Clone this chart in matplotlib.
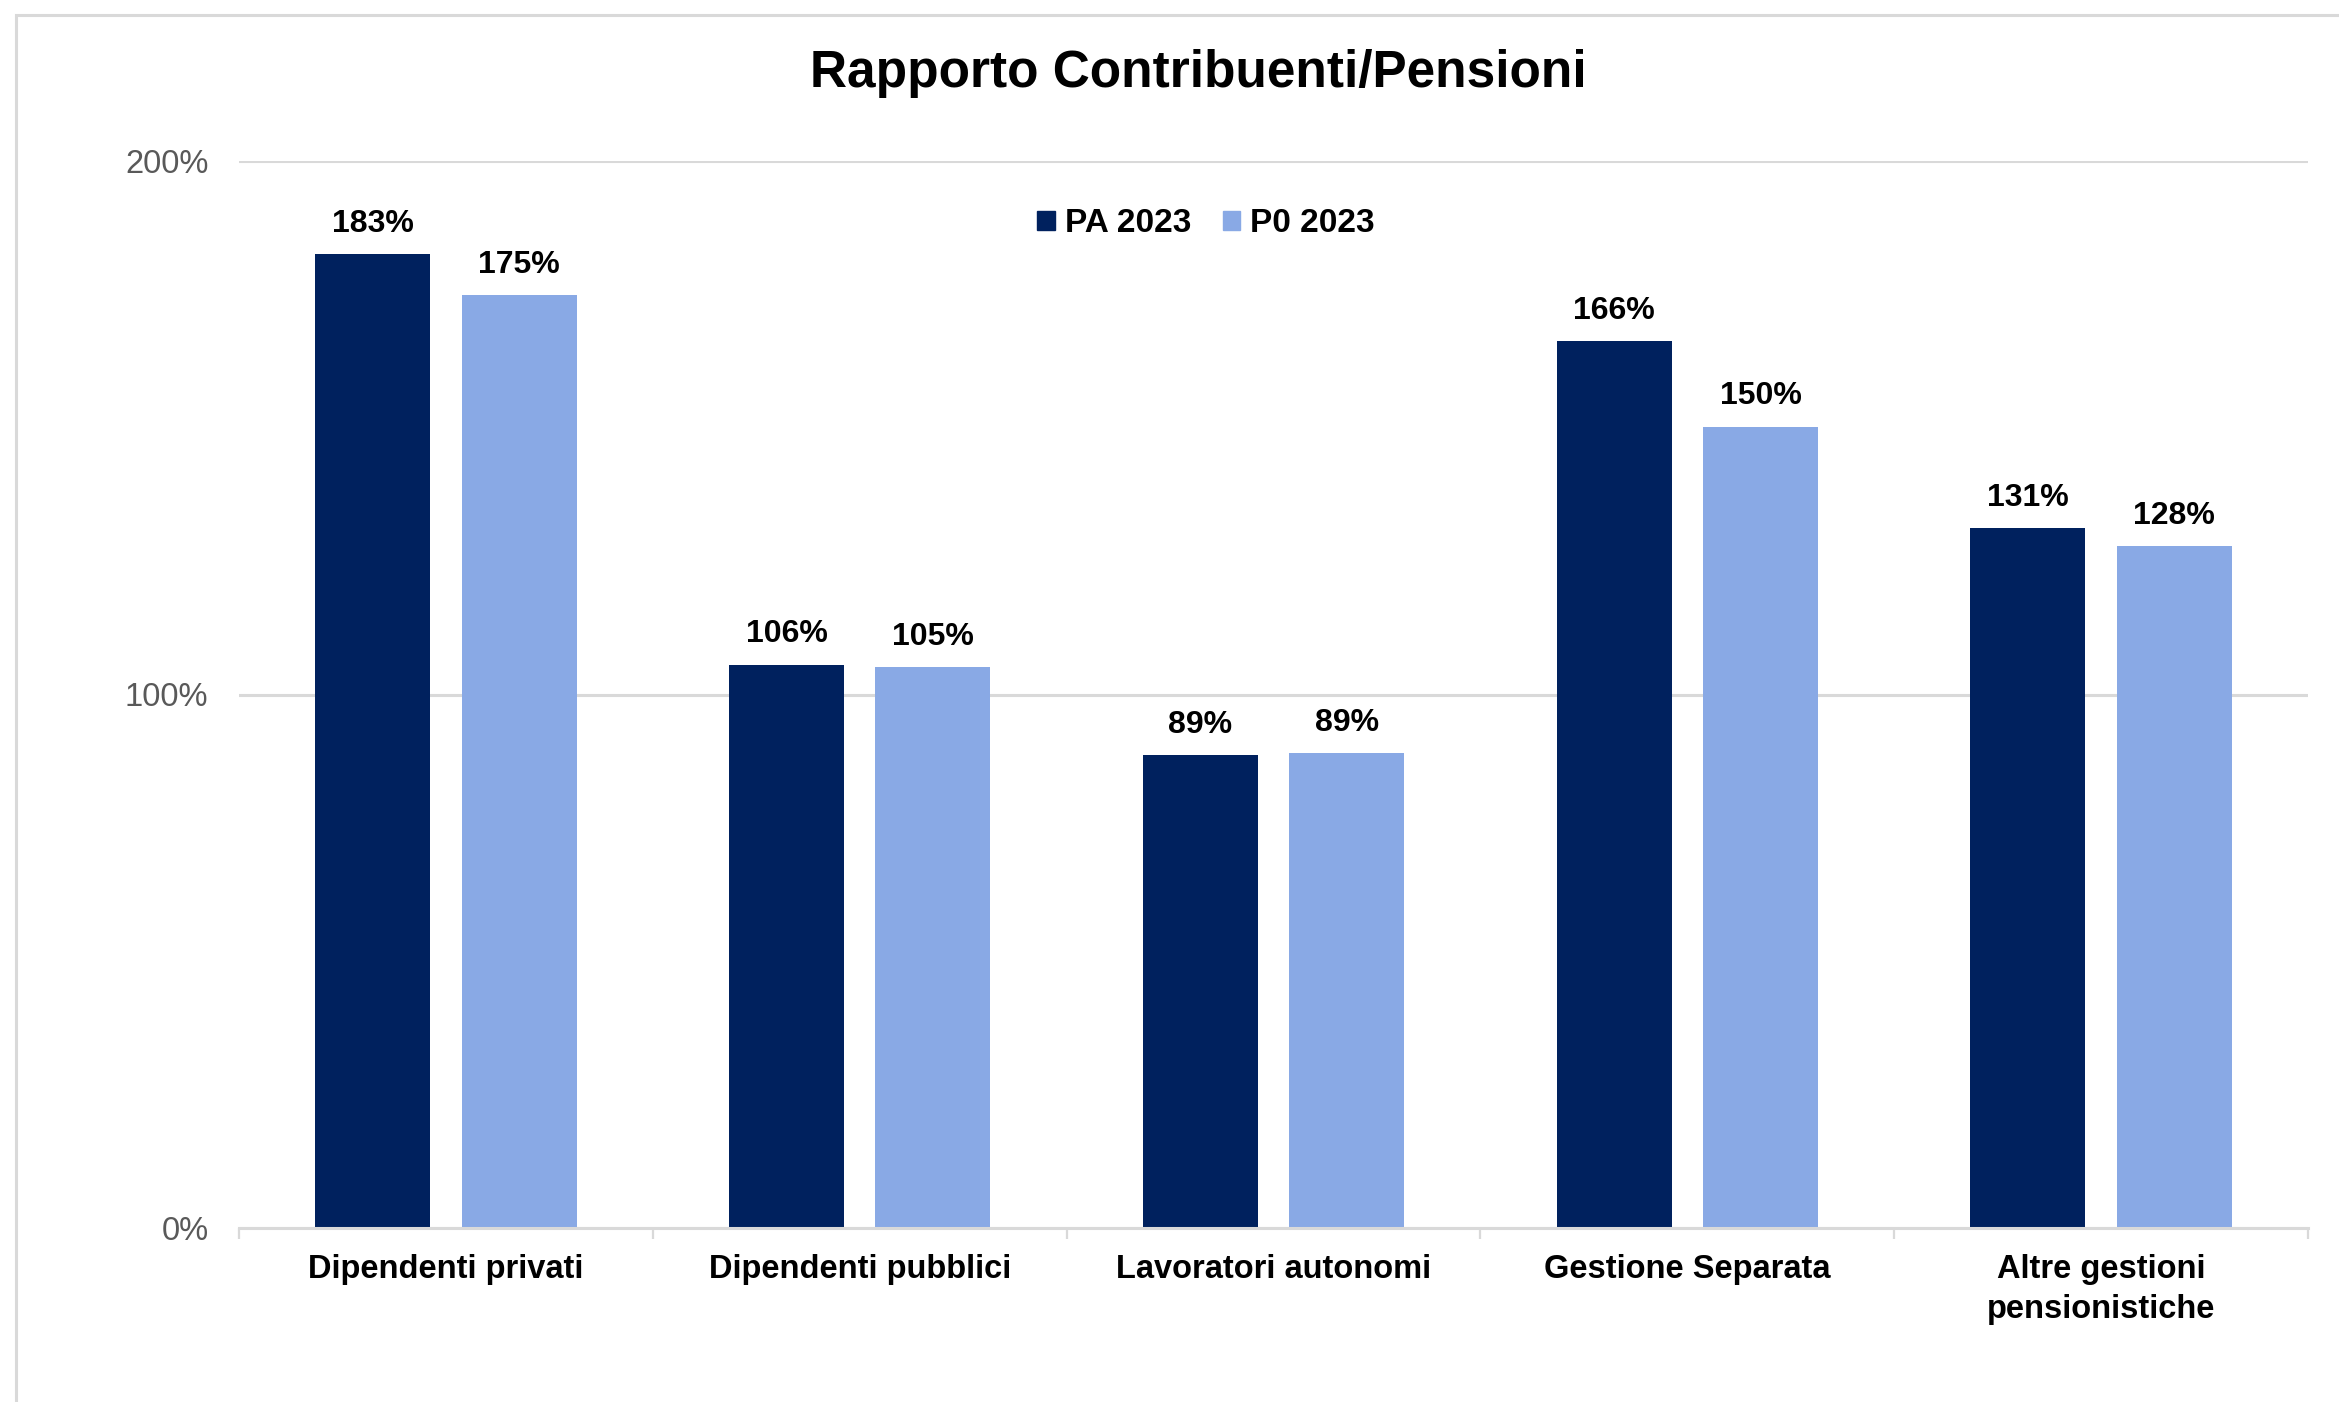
import matplotlib
matplotlib.use("Agg")
import matplotlib.pyplot as plt
from matplotlib.patches import Rectangle, Patch
import numpy as np

categories = ["Dipendenti privati", "Dipendenti pubblici", "Lavoratori autonomi",
              "Gestione Separata", "Altre gestioni\npensionistiche"]
pa_2023 = [182.6, 105.6, 88.6, 166.2, 131.2]
p0_2023 = [174.8, 105.2, 89.0, 150.2, 127.8]
series_names = ["PA 2023", "P0 2023"]
y_ticks = [0, 100, 200]
y_tick_labels = ["0%", "100%", "200%"]

plt.rcParams['font.family'] = ['Liberation Sans', 'DejaVu Sans']

dark = '#00215E'
light = '#89A9E5'
grid_c = '#D9D9D9'

W, H = 2339, 1402
fig = plt.figure(figsize=(W / 100, H / 100), dpi=100)
fig.patch.set_facecolor('white')

# outer border (top and left visible)
fig.patches.append(Rectangle((16 / W, -0.1), 1.2, 1.1 - 15 / H, transform=fig.transFigure,
                             fill=False, edgecolor=grid_c, linewidth=2.2, zorder=0))

ax = fig.add_axes([239 / W, 1 - 1228 / H, (2308 - 239) / W, (1228 - 161) / H])
x = np.arange(len(categories))
bw = 0.278
off = 0.177
b1 = ax.bar(x - off, pa_2023, bw, color=dark, zorder=3)
b2 = ax.bar(x + off, p0_2023, bw, color=light, zorder=3)

for bars, vals in ((b1, pa_2023), (b2, p0_2023)):
    for rect, v in zip(bars, vals):
        ax.annotate(f"{v:.0f}%", (rect.get_x() + rect.get_width() / 2, v),
                    xytext=(0, 16), textcoords='offset points', ha='center', va='baseline',
                    fontsize=23, fontweight='bold', color='black')

ax.set_xlim(-0.5, len(categories) - 0.5)
ax.set_ylim(0, 200)
ax.set_yticks(y_ticks)
ax.set_yticklabels(y_tick_labels)
ax.yaxis.grid(True, color=grid_c, linewidth=2.2, zorder=0)
ax.tick_params(axis='y', length=0, pad=22, labelsize=23.5, labelcolor='#595959')

ax.set_xticks(x)
ax.set_xticklabels(categories, fontsize=23.5, fontweight='bold', linespacing=1.35)
ax.set_xticks(np.arange(-0.5, len(categories), 1.0), minor=True)
ax.tick_params(axis='x', which='major', length=0, pad=19)
ax.tick_params(axis='x', which='minor', length=8, width=1.6, color=grid_c)

for s in ('top', 'right', 'left'):
    ax.spines[s].set_visible(False)
ax.spines['bottom'].set_color(grid_c)
ax.spines['bottom'].set_linewidth(2.2)
ax.spines['bottom'].set_zorder(4)

fig.text(1198 / W, 1 - 73 / H, "Rapporto Contribuenti/Pensioni", ha='center', va='center',
         fontsize=37, fontweight='bold')

handles = [Patch(color=dark), Patch(color=light)]
fig.legend(handles, series_names, loc='center', bbox_to_anchor=(1206 / W, 1 - 224 / H),
           ncol=2, frameon=False, prop={'size': 24, 'weight': 'bold'},
           handlelength=0.52, handleheight=0.52, handletextpad=0.3, columnspacing=0.95)

fig.savefig("out.png", dpi=100)
